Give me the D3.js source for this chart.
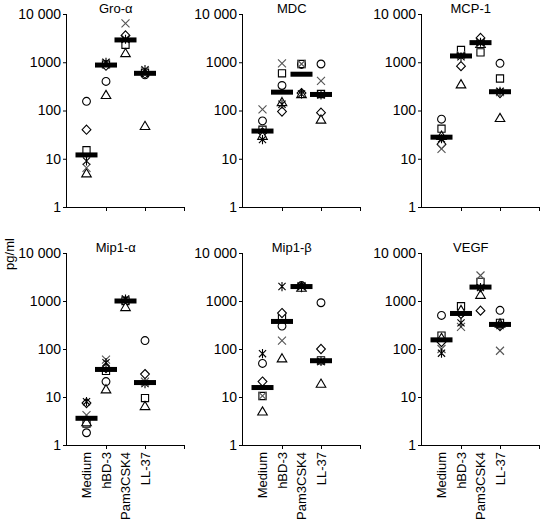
<!DOCTYPE html>
<html><head><meta charset="utf-8">
<script src="https://cdn.jsdelivr.net/npm/d3@7"></script>
<style>body{margin:0;background:#fff}svg{display:block}text{font-family:"Liberation Sans",Arial,Helvetica,sans-serif;fill:#000}</style>
</head><body><svg id="c" width="542" height="520"></svg>
<script>
// ---- data ----
const categories = ["Medium", "hBD-3", "Pam3CSK4", "LL-37"];
const donors = ["circle", "square", "diamond", "triangle", "cross", "asterisk"];
const panelTitles = ["Gro-\u03b1", "MDC", "MCP-1", "Mip1-\u03b1", "Mip1-\u03b2", "VEGF"];
const yTicks = [1, 10, 100, 1000, 10000];
const yTickLabels = ["1", "10", "100", "1000", "10 000"];
const yLabel = "pg/ml";
// values per panel: [category][donor]  (donor order as in `donors`)
const groAlpha = [[155, 15, 40, 5, 6.5, 9], [400, 900, 850, 210, 950, 1000], [2800, 2300, 3600, 1550, 6400, 3000], [550, 600, 580, 48, 650, 700]];
const mdc      = [[61, 40, 35, 30, 106, 25], [330, 590, 95, 150, 950, 135], [900, 920, 230, 220, 920, 220], [920, 220, 90, 65, 410, 210]];
const mcp1     = [[66, 42, 20, 30, 16, 26], [1500, 1800, 830, 350, 1400, 1300], [2700, 1600, 3200, 2400, 2500, 2600], [950, 460, 230, 70, 240, 250]];
const mip1a    = [[1.8, 2.8, 7.5, 3.0, 4.2, 8], [21, 35, 40, 14.5, 60, 52], [1000, 1000, 950, 750, 1050, 1100], [150, 9.5, 30, 6.5, 21, 19]];
const mip1b    = [[50, 10.5, 21, 5, 10.5, 80], [300, 450, 560, 64, 150, 2000], [2100, 2000, 1950, 1900, 2050, 2000], [920, 58, 100, 19, 56, 55]];
const vegf     = [[500, 190, 140, 170, 100, 82], [560, 780, 540, 650, 290, 350], [2000, 2500, 630, 1350, 3400, 1900], [640, 350, 300, 340, 92, 310]];
const panelData = [groAlpha, mdc, mcp1, mip1a, mip1b, vegf];

// ---- layout ----
const svg = d3.select("#c");
const axisX = [67, 243, 422];
const rows = [{top: 14, bottom: 207}, {top: 253, bottom: 445}];
const pw = 117;

function markerPath(type) {
  const p = d3.path();
  if (type === "circle") { p.moveTo(3.9, 0); p.arc(0, 0, 3.9, 0, Math.PI * 2); }
  else if (type === "square") { p.rect(-3.6, -3.6, 7.2, 7.2); }
  else if (type === "diamond") { p.moveTo(0, -4.6); p.lineTo(4.4, 0); p.lineTo(0, 4.6); p.lineTo(-4.4, 0); p.closePath(); }
  else if (type === "triangle") { p.moveTo(0, -4.6); p.lineTo(4.8, 3.6); p.lineTo(-4.8, 3.6); p.closePath(); }
  else if (type === "cross") { p.moveTo(-4, -4); p.lineTo(4, 4); p.moveTo(-4, 4); p.lineTo(4, -4); }
  else { p.moveTo(-3.6, -3.6); p.lineTo(3.6, 3.6); p.moveTo(-3.6, 3.6); p.lineTo(3.6, -3.6); p.moveTo(0, -4.6); p.lineTo(0, 4.6); }
  return p.toString();
}

panelData.forEach((data, i) => {
  const row = rows[Math.floor(i / 3)];
  const x0 = axisX[i % 3];
  const g = svg.append("g");
  const x = d3.scaleLinear().domain([0, 6]).range([x0, x0 + pw]);
  const y = d3.scaleLog().domain([1, 10000]).range([row.bottom, row.top]);

  const yAxis = d3.axisLeft(y).tickValues(yTicks).tickSize(4).tickPadding(2)
    .tickFormat((d, k) => yTickLabels[k]);
  const ya = g.append("g").attr("transform", `translate(${x0},0)`).call(yAxis);
  ya.select(".domain").attr("d", `M-0.5,${row.top}V${row.bottom}`);
  ya.selectAll("text").style("font-size", "14px").attr("fill", "#000");
  ya.selectAll("line,path").attr("stroke", "#000");

  const xAxis = d3.axisBottom(x).tickValues([2, 4, 6]).tickSize(4).tickFormat("");
  const xa = g.append("g").attr("transform", `translate(0,${row.bottom})`).call(xAxis);
  xa.select(".domain").attr("d", `M${x0},0.5H${x0 + pw}`);
  xa.selectAll("line,path").attr("stroke", "#000");

  g.append("text").attr("x", x(2.5)).attr("y", row.top - 1.5)
    .attr("text-anchor", "middle").style("font-size", "13px").text(panelTitles[i]);

  data.forEach((vals, ci) => {
    const cx = x(ci + 1);
    vals.forEach((v, di) => {
      const t = donors[di];
      g.append("path").attr("d", markerPath(t))
        .attr("transform", `translate(${cx},${y(v)})`)
        .attr("fill", (t === "cross" || t === "asterisk") ? "none" : "#fff")
        .attr("stroke", t === "cross" ? "#555" : "#000")
        .attr("stroke-width", 1.1);
    });
    const med = d3.median(vals);
    g.append("rect").attr("x", cx - 11).attr("y", y(med) - 2.5)
      .attr("width", 22).attr("height", 5).attr("fill", "#000");
  });

  if (i >= 3) {
    categories.forEach((c, ci) => {
      g.append("text").attr("transform", `translate(${x(ci + 1)},${row.bottom + 7}) rotate(-90)`)
        .attr("text-anchor", "end").attr("dy", "0.35em").style("font-size", "13px").text(c);
    });
  }
});

svg.append("text").attr("transform", "translate(9,254) rotate(-90)")
  .attr("text-anchor", "middle").attr("dy", "0.35em").style("font-size", "13px").text(yLabel);
</script></body></html>
